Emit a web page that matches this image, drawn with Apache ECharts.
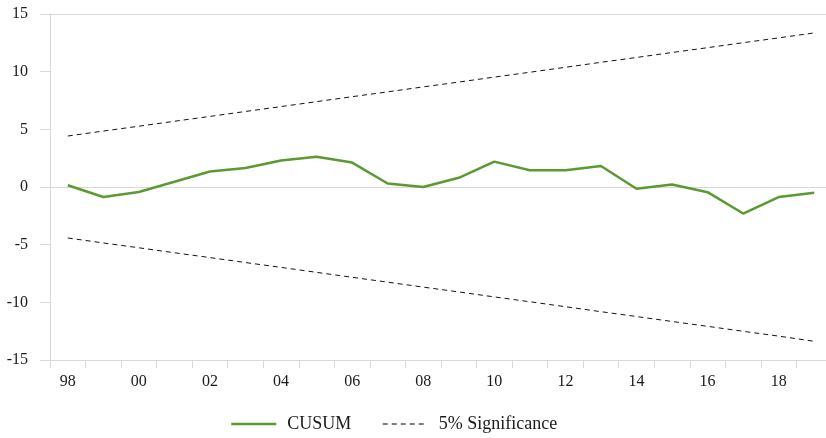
<!DOCTYPE html>
<html>
<head>
<meta charset="utf-8">
<script src="https://cdn.jsdelivr.net/npm/echarts@6/dist/echarts.min.js"></script>
<style>
html,body{margin:0;padding:0;background:#fff;}
#chart{width:826px;height:438px;}
</style>
</head>
<body>
<div id="chart"></div>
<script>
var categories = ['98','99','00','01','02','03','04','05','06','07','08','09','10','11','12','13','14','15','16','17','18','19'];
var cusum = [0.15, -0.87, -0.43, 0.45, 1.35, 1.65, 2.3, 2.62, 2.12, 0.3, 0.0, 0.8, 2.2, 1.45, 1.45, 1.82, -0.15, 0.22, -0.45, -2.3, -0.87, -0.5];
var upper = [4.42, 4.85, 5.27, 5.70, 6.12, 6.55, 6.97, 7.40, 7.83, 8.25, 8.68, 9.10, 9.53, 9.95, 10.38, 10.81, 11.23, 11.66, 12.08, 12.51, 12.93, 13.36];
var lower = [-4.42, -4.85, -5.27, -5.70, -6.12, -6.55, -6.97, -7.40, -7.83, -8.25, -8.68, -9.10, -9.53, -9.95, -10.38, -10.81, -11.23, -11.66, -12.08, -12.51, -12.93, -13.38];
var yTicks = {min: -15, max: 15, interval: 5};

var font = '"Liberation Serif", "Times New Roman", serif';
var chart = echarts.init(document.getElementById('chart'));
chart.setOption({
  animation: false,
  textStyle: {fontFamily: font},
  grid: {left: 50, top: 14, height: 346, width: 782, containLabel: false, outerBoundsMode: 'none'},
  legend: {
    left: 225, top: 410,
    itemWidth: 45, itemHeight: 13, itemGap: 31,
    itemStyle: {opacity: 0},
    lineStyle: {width: 2.5},
    textStyle: {fontFamily: font, fontSize: 18, color: '#1a1a1a', padding: [0, 0, 0, 6]},
    data: [{name: 'CUSUM'}, {name: '5% Significance', itemStyle: {opacity: 0}, lineStyle: {width: 1, color: '#000'}}]
  },
  xAxis: {
    type: 'category',
    data: categories,
    boundaryGap: true,
    axisLine: {show: true, onZero: false, lineStyle: {color: '#d9d9d9', width: 1}},
    axisTick: {show: true, interval: 0, length: 8, lineStyle: {color: '#d9d9d9'}},
    axisLabel: {interval: 1, color: '#1a1a1a', fontSize: 16, fontFamily: font, margin: 14},
    splitLine: {show: false}
  },
  yAxis: {
    type: 'value',
    min: yTicks.min, max: yTicks.max, interval: yTicks.interval,
    axisLine: {show: true, lineStyle: {color: '#d9d9d9', width: 1}},
    axisTick: {show: true, length: 10, lineStyle: {color: '#d9d9d9'}},
    axisLabel: {color: '#1a1a1a', fontSize: 16, fontFamily: font, margin: 22},
    splitLine: {show: true, lineStyle: {color: ['#d9d9d9', 'rgba(0,0,0,0)', 'rgba(0,0,0,0)'], width: 1}}
  },
  series: [
    {name: 'CUSUM', type: 'line', data: cusum, symbol: 'none', lineStyle: {color: '#5b9a30', width: 2.5}, itemStyle: {color: '#5b9a30'}},
    {name: '5% Significance', type: 'line', data: upper, symbol: 'none', lineStyle: {color: '#111', width: 1, type: [5, 4]}, itemStyle: {color: '#111'}},
    {name: '5% Significance', type: 'line', data: lower, symbol: 'none', lineStyle: {color: '#111', width: 1, type: [5, 4]}, itemStyle: {color: '#111'}}
  ]
});
</script>
</body>
</html>
